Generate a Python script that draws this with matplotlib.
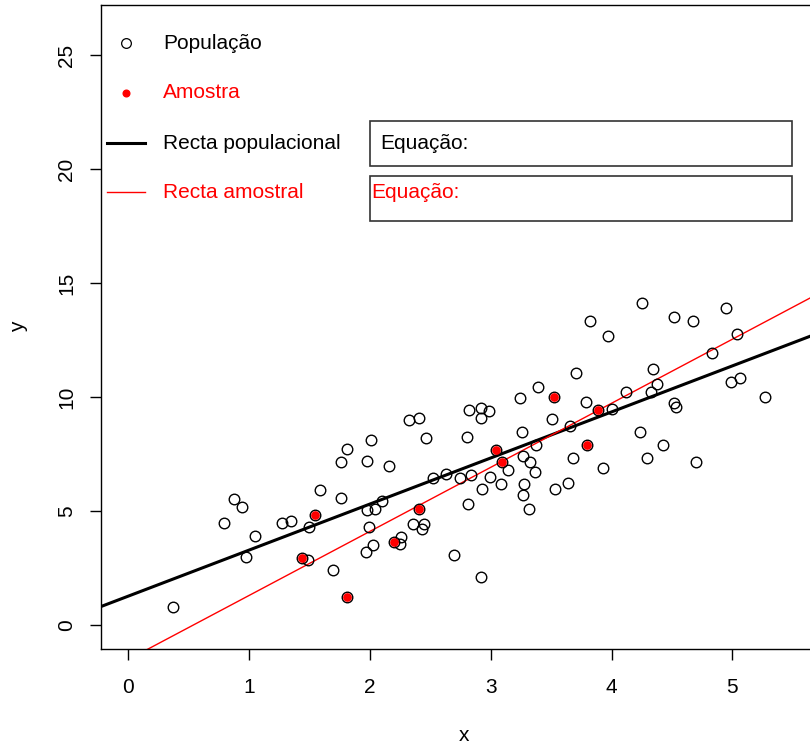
import matplotlib
matplotlib.use("Agg")
import matplotlib.pyplot as plt
from matplotlib.patches import Rectangle
import numpy as np

plt.rcParams['font.family'] = ['Liberation Sans', 'DejaVu Sans']

# population (open circles)
pop_x = [0.370, 0.875, 0.944, 0.795, 1.272, 1.349, 1.543, 1.493, 1.051, 0.974,
         1.435, 1.490, 1.692, 1.808, 1.584, 1.758, 1.763, 1.810, 1.976, 2.012,
         2.156, 2.324, 2.406, 2.467, 2.801, 2.818, 2.921, 2.983, 2.922, 3.243,
         3.389, 3.526, 3.503, 3.255, 3.040, 3.094, 3.371, 3.267, 3.325, 3.367,
         3.141, 2.994, 2.833, 2.746, 2.632, 2.524, 2.100, 2.046, 1.974, 2.406,
         1.993, 2.359, 2.450, 2.430, 2.026, 1.969, 2.201, 2.257, 2.251, 2.699,
         2.917, 2.812, 2.928, 3.081, 3.272, 3.265, 3.320, 3.535, 3.636, 3.656,
         3.800, 3.681, 3.932, 4.291, 4.699, 4.238, 4.424, 3.886, 3.791, 4.004,
         3.706, 4.123, 4.329, 4.379, 4.346, 4.515, 4.531, 4.834, 4.989, 5.061,
         5.271, 5.041, 3.971, 3.822, 4.250, 4.520, 4.675, 4.948]
pop_y = [0.811, 5.526, 5.175, 4.474, 4.474, 4.548, 4.825, 4.298, 3.890, 2.996,
         2.939, 2.838, 2.412, 1.228, 5.921, 5.557, 7.136, 7.719, 7.193, 8.127,
         6.987, 8.991, 9.079, 8.202, 8.246, 9.452, 9.526, 9.399, 9.079, 9.943,
         10.452, 10.013, 9.035, 8.487, 7.675, 7.149, 7.908, 7.425, 7.136, 6.732,
         6.820, 6.504, 6.601, 6.447, 6.623, 6.447, 5.461, 5.088, 5.031, 5.079,
         4.311, 4.417, 4.452, 4.232, 3.522, 3.224, 3.649, 3.846, 3.561, 3.092,
         2.127, 5.320, 5.965, 6.184, 6.193, 5.724, 5.110, 5.978, 6.241, 8.750,
         7.908, 7.325, 6.908, 7.325, 7.136, 8.452, 7.882, 9.430, 9.794, 9.487,
         11.039, 10.206, 10.232, 10.557, 11.241, 9.750, 9.561, 11.917, 10.658, 10.846,
         9.987, 12.763, 12.675, 13.320, 14.110, 13.509, 13.320, 13.904]

# sample (red dots)
amo_x = [1.543, 1.435, 1.808, 3.526, 3.040, 3.094, 2.406, 2.201, 3.800, 3.886]
amo_y = [4.825, 2.939, 1.228, 10.013, 7.675, 7.149, 5.079, 3.649, 7.908, 9.430]

# regression lines (intercept, slope)
recta_pop = (1.27, 2.02)
recta_amo = (-1.51, 2.81)

legend_labels = ["População", "Amostra", "Recta populacional", "Recta amostral"]
legend_colors = ["black", "red", "black", "red"]

FS = 15

fig = plt.figure(figsize=(8.1, 7.49), dpi=100)
ax = fig.add_axes([0.1253, 0.1335, 0.894, 0.8598])

ax.plot(pop_x, pop_y, 'o', mfc='none', mec='black', ms=7.6, mew=1.0, zorder=3)
ax.plot(amo_x, amo_y, 'o', mfc='red', mec='none', ms=6.3, zorder=4)

xs = np.array([-1.0, 7.0])
ax.plot(xs, recta_pop[0] + recta_pop[1] * xs, color='black', lw=2.2, zorder=2)
ax.plot(xs, recta_amo[0] + recta_amo[1] * xs, color='red', lw=1.0, zorder=2)

ax.set_xlim(-0.222, 5.772)
ax.set_ylim(-1.05, 27.2)
ax.set_xticks([0, 1, 2, 3, 4, 5])
ax.set_yticks([0, 5, 10, 15, 20, 25])
ax.tick_params(axis='both', direction='out', length=8, width=1, labelsize=FS)
ax.tick_params(axis='x', pad=13)
ax.tick_params(axis='y', pad=10)
for lbl in ax.get_yticklabels():
    lbl.set_rotation(90)
    lbl.set_va('center')
ax.set_xlabel("x", fontsize=FS, labelpad=21)
ax.set_ylabel("y", fontsize=FS, labelpad=21)
for sp in ax.spines.values():
    sp.set_linewidth(1.0)

# legend drawn by hand (no box, wide row spacing)
rows = [0.941, 0.8634, 0.7857, 0.7096]
ax.plot([0.0338], [rows[0]], 'o', mfc='none', mec='black', ms=7.0, mew=0.9,
        transform=ax.transAxes, clip_on=False)
ax.plot([0.0338], [rows[1]], 'o', mfc='red', mec='red', ms=4.8,
        transform=ax.transAxes, clip_on=False)
ax.plot([0.0076, 0.0601], [rows[2]] * 2, color='black', lw=2.2, transform=ax.transAxes)
ax.plot([0.0076, 0.0601], [rows[3]] * 2, color='red', lw=1.0, transform=ax.transAxes)
for lab, col, yy in zip(legend_labels, legend_colors, rows):
    ax.text(0.0849, yy, lab, color=col, fontsize=FS, va='center', ha='left',
            transform=ax.transAxes)

# equation boxes
ax.add_patch(Rectangle((0.3708, 0.75), 0.5828, 0.0699, fill=False, ec='#333333',
                       lw=1.2, transform=ax.transAxes))
ax.add_patch(Rectangle((0.3708, 0.6646), 0.5828, 0.0699, fill=False, ec='#333333',
                       lw=1.2, transform=ax.transAxes))
ax.text(0.3846, 0.7857, "Equação:", color='black', fontsize=FS, va='center',
        transform=ax.transAxes)
ax.text(0.3722, 0.7096, "Equação:", color='red', fontsize=FS, va='center',
        transform=ax.transAxes)

fig.savefig("out.png", dpi=100)
